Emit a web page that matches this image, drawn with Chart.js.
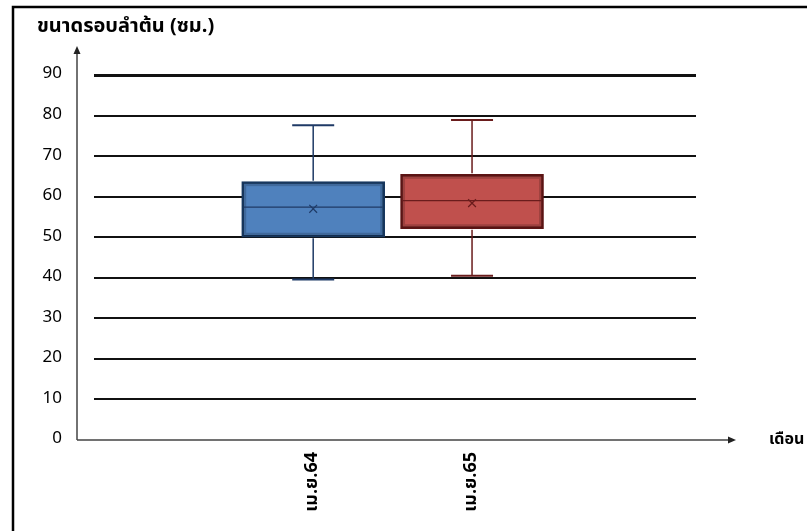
<!DOCTYPE html>
<html>
<head>
<meta charset="utf-8">
<title>ขนาดรอบลำต้น</title>
<script src="https://cdn.jsdelivr.net/npm/chart.js"></script>
<style>
  html, body { margin: 0; padding: 0; background: #fff; }
  #wrap { width: 807px; height: 531px; position: relative; }
</style>
</head>
<body>
<div id="wrap"><canvas id="girthChart"></canvas></div>
<script>
// box plot values per month (cm)
const categories = ['เม.ย.64', 'เม.ย.65'];
const minValues = [39.6, 40.5];
const q1Values = [50.0, 52.1];
const medianValues = [57.4, 59.0];
const q3Values = [63.7, 65.5];
const maxValues = [77.6, 78.9];
const meanValues = [57.0, 58.4];
const yTicks = [0, 10, 20, 30, 40, 50, 60, 70, 80, 90];

const fillColors = ['#4f81bd', '#c0504d'];
const edgeColors = ['#17375e', '#5c1414'];
const lineColors = ['#1f3a66', '#6a1c1c'];

const FONT = "Tahoma, 'Noto Sans Thai', 'Leelawadee UI', 'DejaVu Sans', sans-serif";

// whiskers, caps, inner shading and median lines for each box
const boxExtras = {
    id: 'boxExtras',
    afterDatasetDraw(chart, args) {
        if (args.index !== 0) return;
        const ctx = chart.ctx;
        const x = chart.scales.x, y = chart.scales.y;
        const meta = chart.getDatasetMeta(0);
        ctx.save();
        categories.forEach((c, i) => {
            const cx = x.getPixelForValue(i + 1);
            const bar = meta.data[i];
            const half = bar.width / 2;
            const top = y.getPixelForValue(q3Values[i]);
            const bottom = y.getPixelForValue(q1Values[i]);

            // soft darker rim inside the box
            ctx.strokeStyle = 'rgba(0,0,0,0.18)';
            ctx.lineWidth = 3;
            ctx.strokeRect(cx - half + 3, top + 3, half * 2 - 6, bottom - top - 6);

            ctx.strokeStyle = lineColors[i];
            ctx.lineWidth = 1.5;
            ctx.beginPath();
            ctx.moveTo(cx, top - 1);
            ctx.lineTo(cx, y.getPixelForValue(maxValues[i]));
            ctx.moveTo(cx, bottom + 1);
            ctx.lineTo(cx, y.getPixelForValue(minValues[i]));
            ctx.stroke();
            ctx.lineWidth = 2;
            ctx.beginPath();
            ctx.moveTo(cx - 21, y.getPixelForValue(maxValues[i]));
            ctx.lineTo(cx + 21, y.getPixelForValue(maxValues[i]));
            ctx.moveTo(cx - 21, y.getPixelForValue(minValues[i]));
            ctx.lineTo(cx + 21, y.getPixelForValue(minValues[i]));
            ctx.stroke();

            ctx.lineWidth = 1.3;
            ctx.beginPath();
            const my = y.getPixelForValue(medianValues[i]);
            ctx.moveTo(cx - half + 2, my);
            ctx.lineTo(cx + half - 2, my);
            ctx.stroke();
        });
        ctx.restore();
    }
};

// frame, arrowed axes and axis titles
const frameAndAxes = {
    id: 'frameAndAxes',
    afterDraw(chart) {
        const ctx = chart.ctx;
        const area = chart.chartArea;
        const y = chart.scales.y;
        const ax = area.left - 17;
        const ay = y.getPixelForValue(0);
        ctx.save();

        ctx.strokeStyle = '#000';
        ctx.lineWidth = 2.5;
        ctx.beginPath();
        ctx.moveTo(13, chart.height);
        ctx.lineTo(13, 7);
        ctx.lineTo(chart.width, 7);
        ctx.stroke();

        ctx.strokeStyle = '#444';
        ctx.fillStyle = '#222';
        ctx.lineWidth = 1.5;
        ctx.beginPath();
        ctx.moveTo(ax, ay);
        ctx.lineTo(ax, 52);
        ctx.moveTo(ax, ay);
        ctx.lineTo(area.right + 34, ay);
        ctx.stroke();
        ctx.beginPath();
        ctx.moveTo(ax, 46);
        ctx.lineTo(ax - 3.5, 54);
        ctx.lineTo(ax + 3.5, 54);
        ctx.closePath();
        ctx.fill();
        ctx.beginPath();
        ctx.moveTo(area.right + 40, ay);
        ctx.lineTo(area.right + 32, ay - 3.5);
        ctx.lineTo(area.right + 32, ay + 3.5);
        ctx.closePath();
        ctx.fill();

        ctx.fillStyle = '#000';
        ctx.textBaseline = 'middle';
        ctx.textAlign = 'left';
        ctx.font = 'bold 20px ' + FONT;
        ctx.fillText('ขนาดรอบลำต้น (ซม.)', 37, 28);
        ctx.font = 'bold 16px ' + FONT;
        ctx.fillText('เดือน', 769, ay + 1);
        ctx.restore();
    }
};

new Chart(document.getElementById('girthChart'), {
    type: 'bar',
    data: {
        datasets: [
            {
                type: 'bar',
                data: categories.map((c, i) => ({ x: i + 1, y: [q1Values[i], q3Values[i]] })),
                backgroundColor: fillColors,
                borderColor: edgeColors,
                borderWidth: 2.5,
                borderSkipped: false,
                barThickness: 143,
                order: 2
            },
            {
                type: 'scatter',
                data: categories.map((c, i) => ({ x: i + 1, y: meanValues[i] })),
                pointStyle: 'crossRot',
                pointRadius: 5.5,
                borderColor: lineColors,
                borderWidth: 1.2,
                order: 1
            }
        ]
    },
    options: {
        responsive: true,
        maintainAspectRatio: false,
        animation: false,
        layout: { padding: { left: 0, top: 75, right: 111, bottom: 0 } },
        plugins: {
            legend: { display: false },
            tooltip: { enabled: false }
        },
        scales: {
            x: {
                type: 'linear',
                offset: false,
                min: -0.38,
                max: 3.41,
                afterBuildTicks: (scale) => { scale.ticks = categories.map((c, i) => ({ value: i + 1 })); },
                afterFit: (scale) => { scale.height = 91; },
                grid: { display: false, drawTicks: false, offset: false },
                border: { display: false },
                ticks: {
                    minRotation: 90,
                    maxRotation: 90,
                    padding: 12,
                    color: '#000',
                    font: { family: FONT, size: 18, weight: 'bold' },
                    callback: (v) => categories[v - 1] || ''
                }
            },
            y: {
                min: 0,
                max: 90,
                afterBuildTicks: (scale) => { scale.ticks = yTicks.map(v => ({ value: v })); },
                afterFit: (scale) => { scale.width = 94; },
                grid: {
                    drawTicks: false,
                    color: (c) => c.tick && c.tick.value === 0 ? 'rgba(0,0,0,0)' : '#111',
                    lineWidth: (c) => c.tick && c.tick.value === 90 ? 3 : 2
                },
                border: { display: false },
                ticks: {
                    padding: 32,
                    color: '#000',
                    font: { family: FONT, size: 17 }
                }
            }
        }
    },
    plugins: [boxExtras, frameAndAxes]
});
</script>
</body>
</html>
